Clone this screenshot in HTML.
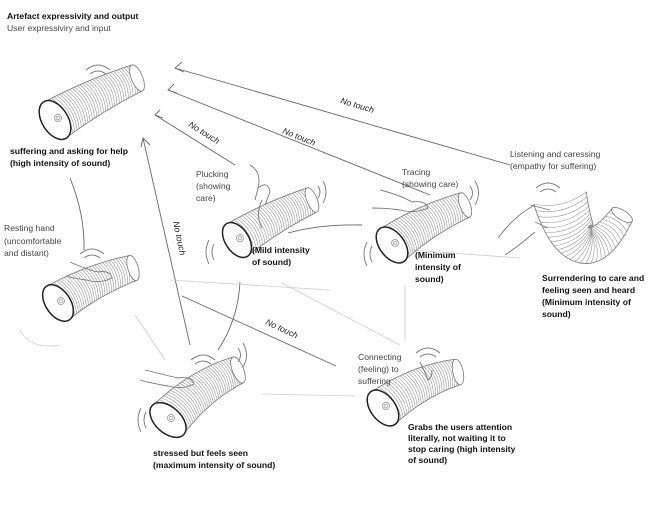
<!DOCTYPE html>
<html><head><meta charset="utf-8"><style>
html,body{margin:0;padding:0;background:#fff;}
svg{display:block;}
text{font-family:"Liberation Sans",sans-serif;font-size:8.6px;fill:#222;}
.b{font-weight:bold;fill:#111;}
.g{fill:#444;}
</style></head><body>
<svg id="s" width="655" height="521" viewBox="0 0 655 521" xmlns="http://www.w3.org/2000/svg">
<g fill="none" stroke="#666" stroke-width="0.9">
<path d="M510,165 L175,68"/><path d="M182,62 L175,68 L184,72"/>
<path d="M430,195 L168,90"/><path d="M174,84 L168,90 L177,93"/>
<path d="M235,165 L155,115"/><path d="M160,110 L155,115 L163,118"/>
<path d="M190,345 L143,138"/><path d="M141,147 L143,138 L150,145"/>
<path d="M182,296 L336,366"/>
<path d="M70,178 Q85,215 84,250"/>
<path d="M240,282 Q238,320 218,350"/>
<path d="M288,233 Q320,224 362,225"/>
</g>
<g fill="none" stroke="#ccc" stroke-width="0.8">
<path d="M410,250 L520,258"/>
<path d="M262,394 L355,396"/>
<path d="M282,283 L400,345"/>
<path d="M135,315 L165,360"/>
<path d="M20,330 Q30,350 60,345"/>
<path d="M405,285 L405,340"/>
<path d="M170,280 L330,290"/>
</g>
<g id="tubes"></g>
<text class="b" x="7" y="19">Artefact expressivity and output</text>
<text class="g" x="7" y="31">User expressiviry and input</text>
<g fill="#333" font-style="italic">
<text x="340" y="103" transform="rotate(17 340 103)">No touch</text>
<text x="282" y="133" transform="rotate(22 282 133)">No touch</text>
<text x="188" y="126" transform="rotate(32 188 126)">No touch</text>
<text x="173" y="222" transform="rotate(78 173 222)">No touch</text>
<text x="265" y="324" transform="rotate(25 265 324)">No touch</text>
</g>
<text class="b" x="10" y="154">suffering and asking for help</text>
<text class="b" x="10" y="166">(high intensity of sound)</text>
<text class="g" x="4" y="231">Resting hand</text>
<text class="g" x="4" y="244">(uncomfortable</text>
<text class="g" x="4" y="256">and distant)</text>
<text class="g" x="196" y="177">Plucking</text>
<text class="g" x="196" y="189">(showing</text>
<text class="g" x="196" y="201">care)</text>
<text class="b" x="252" y="253">(Mild intensity</text>
<text class="b" x="252" y="265">of sound)</text>
<text class="g" x="402" y="175">Tracing</text>
<text class="g" x="402" y="187">(showing care)</text>
<text class="b" x="415" y="258">(Minimum</text>
<text class="b" x="415" y="270">intensity of</text>
<text class="b" x="415" y="282">sound)</text>
<text class="g" x="510" y="157">Listening and caressing</text>
<text class="g" x="510" y="169">(empathy for suffering)</text>
<text class="b" x="542" y="281">Surrendering to care and</text>
<text class="b" x="542" y="293">feeling seen and heard</text>
<text class="b" x="542" y="305">(Minimum intensity of</text>
<text class="b" x="542" y="317">sound)</text>
<text class="g" x="358" y="360">Connecting</text>
<text class="g" x="358" y="372">(feeling) to</text>
<text class="g" x="358" y="384">suffering</text>
<text class="b" x="408" y="430">Grabs the users attention</text>
<text class="b" x="408" y="441">literally, not waiting it to</text>
<text class="b" x="408" y="452">stop caring (high intensity</text>
<text class="b" x="408" y="463">of sound)</text>
<text class="b" x="153" y="456">stressed but feels seen</text>
<text class="b" x="153" y="468">(maximum intensity of sound)</text>
<g fill="none" stroke="#777" stroke-width="0.9">
<path d="M250,165 Q262,172 258,188 L255,200 M258,188 Q268,180 270,192 L265,205 M262,200 Q255,215 262,228"/>
<path d="M380,190 Q400,195 412,202 Q425,200 428,208 Q415,214 400,210 Q385,208 372,208"/>
<path d="M70,262 Q88,270 98,272 Q110,270 112,278 Q100,284 86,280 Q72,278 66,276"/>
<path d="M145,370 Q165,375 178,378 Q192,376 194,384 Q182,390 168,386 Q150,383 140,380"/>
<path d="M498,238 Q515,215 535,205 M505,255 Q520,245 535,232 M530,205 L550,210 M535,222 L548,228"/>
<path d="M420,362 Q425,372 428,380 Q432,378 432,370"/>
<path d="M90,74 Q98,68 106,74 M86,70 Q98,60 110,70"/>
<path d="M84,258 Q92,252 100,258 M80,254 Q92,244 104,254"/>
<path d="M214,260 Q210,252 214,244 M209,264 Q203,252 209,240"/>
<path d="M318,198 Q322,192 318,186 M323,203 Q329,192 323,181"/>
<path d="M372,262 Q368,254 372,246 M367,266 Q361,254 367,242"/>
<path d="M470,200 Q475,193 470,186 M475,205 Q482,193 475,181"/>
<path d="M540,192 Q548,186 556,192 M536,188 Q548,178 560,188"/>
<path d="M146,428 Q142,420 146,412 M141,432 Q135,420 141,408"/>
<path d="M195,364 Q203,358 211,364 M191,360 Q203,350 215,360"/>
<path d="M238,362 Q243,355 238,348 M243,367 Q250,355 243,343"/>
<path d="M420,357 Q428,351 436,357 M416,353 Q428,343 440,353"/>
</g>
</svg>
<script>
(function(){
var g=document.getElementById('tubes'),NS='http://www.w3.org/2000/svg';
function el(n,a){var e=document.createElementNS(NS,n);for(var k in a)e.setAttribute(k,a[k]);g.appendChild(e);return e;}
function tube(p0,c,p1,r0,r1,n,mouth){
 function pt(t){return [(1-t)*(1-t)*p0[0]+2*(1-t)*t*c[0]+t*t*p1[0],(1-t)*(1-t)*p0[1]+2*(1-t)*t*c[1]+t*t*p1[1]];}
 function tg(t){var x=2*(1-t)*(c[0]-p0[0])+2*t*(p1[0]-c[0]),y=2*(1-t)*(c[1]-p0[1])+2*t*(p1[1]-c[1]);var l=Math.hypot(x,y);return [x/l,y/l];}
 var L=[],R=[];
 for(var i=0;i<=n;i++){var t=i/n,p=pt(t),d=tg(t),nx=-d[1],ny=d[0],r=r0+(r1-r0)*t;
  var a=[p[0]+nx*r,p[1]+ny*r],b=[p[0]-nx*r,p[1]-ny*r];L.push(a);R.push(b);
  var q=[p[0]+d[0]*r*0.45,p[1]+d[1]*r*0.45];
  el('path',{d:'M'+a+' Q'+q+' '+b,fill:'none',stroke:'#999','stroke-width':0.6});}
 el('path',{d:'M'+L.join(' L'),fill:'none',stroke:'#777','stroke-width':0.8});
 el('path',{d:'M'+R.join(' L'),fill:'none',stroke:'#777','stroke-width':0.8});
 var d=tg(1),e=pt(1);el('ellipse',{cx:e[0],cy:e[1],rx:r1*0.4,ry:r1,transform:'rotate('+(Math.atan2(d[1],d[0])*180/Math.PI)+' '+e[0]+' '+e[1]+')',fill:'#fff',stroke:'#777','stroke-width':0.8});
 if(mouth){var d0=tg(0),ang=Math.atan2(d0[1],d0[0])*180/Math.PI;
  el('ellipse',{cx:p0[0],cy:p0[1],rx:r0*0.62,ry:r0*1.02,transform:'rotate('+ang+' '+p0[0]+' '+p0[1]+')',fill:'#fff',stroke:'#222','stroke-width':1.5});
  el('circle',{cx:p0[0]+3,cy:p0[1]-2,r:3.5,fill:'none',stroke:'#888','stroke-width':0.7});
  el('circle',{cx:p0[0]+3,cy:p0[1]-2,r:1.8,fill:'none',stroke:'#888','stroke-width':0.6});}
}
tube([55,120],[95,95],[137,78],21,14,34,1);
tube([58,303],[92,280],[133,268],20,13,32,1);
tube([237,240],[275,215],[312,200],19,13,32,1);
tube([392,245],[425,220],[465,205],20,13,32,1);
tube([168,420],[200,385],[238,370],21,14,34,1);
tube([383,408],[420,380],[458,372],20,13,32,1);
tube([560,198],[580,282],[622,215],27,12,28,0);
})();
</script>
</body></html>
